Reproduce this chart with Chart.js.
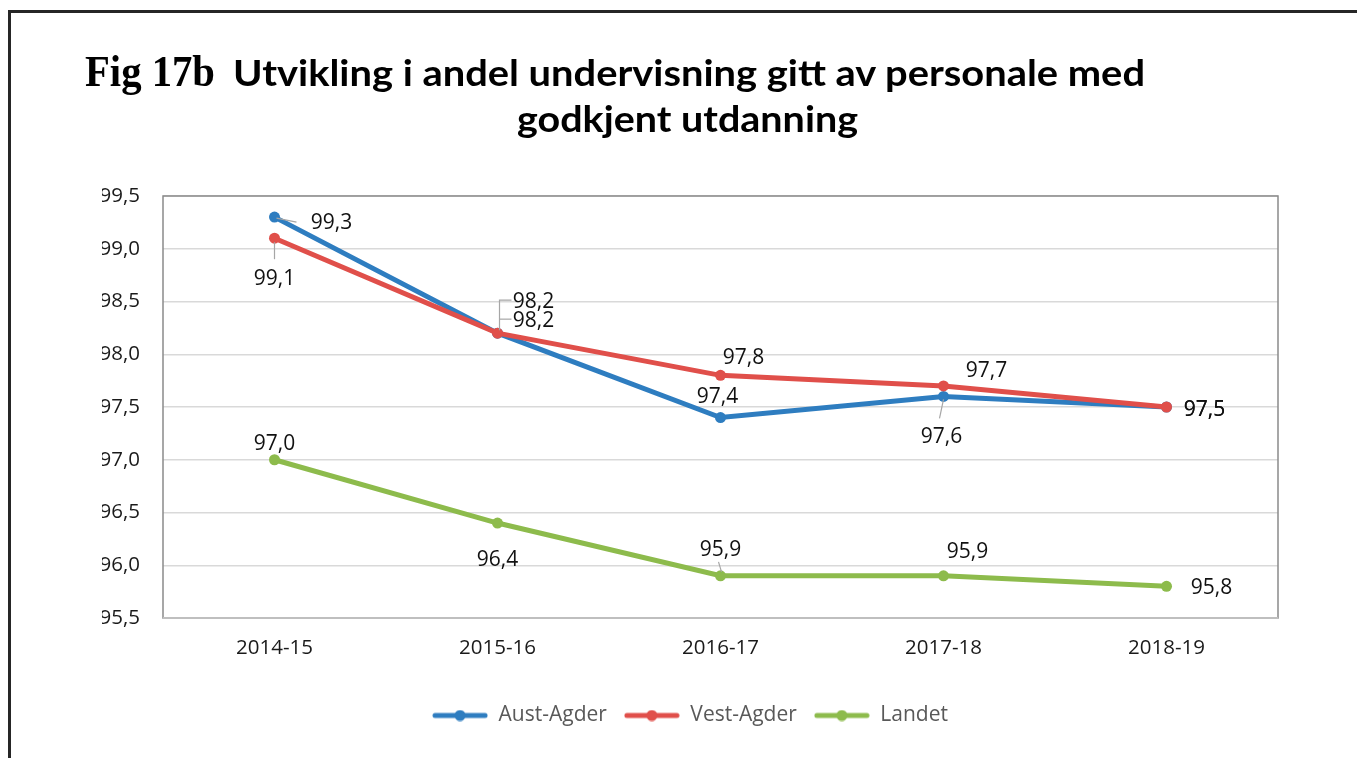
<!DOCTYPE html>
<html>
<head>
<meta charset="utf-8">
<script src="https://cdn.jsdelivr.net/npm/chart.js@4.4.0/dist/chart.umd.min.js"></script>
<style>
html,body{margin:0;padding:0;background:#fff;}
#wrap{position:relative;width:1357px;height:758px;overflow:hidden;background:#fff;}
#frameTop{position:absolute;left:8px;top:10px;width:1349px;height:3px;background:#262626;}
#frameLeft{position:absolute;left:8px;top:10px;width:3px;height:748px;background:#262626;}
#chart{position:absolute;left:0;top:0;}
.t{position:absolute;white-space:nowrap;color:#000;transform-origin:0 0;line-height:1;}
#fig{font-family:"Liberation Serif","Times New Roman",serif;font-weight:bold;font-size:44px;left:85px;top:50px;}
#t1{font-family:Lato,"Open Sans",sans-serif;font-weight:bold;font-size:37px;left:233px;top:53px;}
#t2{font-family:Lato,"Open Sans",sans-serif;font-weight:bold;font-size:37px;left:517px;top:99px;}
</style>
</head>
<body>
<div id="wrap">
  <div id="frameTop"></div>
  <div id="frameLeft"></div>
  <canvas id="chart" width="1357" height="758"></canvas>
  <div class="t" id="fig" data-w="130">Fig 17b</div>
  <div class="t" id="t1" data-w="912">Utvikling i andel undervisning gitt av personale med</div>
  <div class="t" id="t2" data-w="341">godkjent utdanning</div>
</div>
<script>
// ---- data ----
const categories = ['2014-15', '2015-16', '2016-17', '2017-18', '2018-19'];
const seriesNames = ['Aust-Agder', 'Vest-Agder', 'Landet'];
const austAgder = [99.3, 98.2, 97.4, 97.6, 97.5];
const vestAgder = [99.1, 98.2, 97.8, 97.7, 97.5];
const landet = [97.0, 96.4, 95.9, 95.9, 95.8];
const yTicks = [95.5, 96.0, 96.5, 97.0, 97.5, 98.0, 98.5, 99.0, 99.5];

// ---- styling / label placement ----
const colors = ['#2E7DC0', '#E04F4A', '#8DBB4C'];
const labelOffsets = [
  [[57, 6], [36, -31], [-3, -21], [-2, 41], [38, 3]],
  [[0, 41], [36, -12], [23, -17], [43, -15], [38, 3]],
  [[0, -16], [0, 37], [0, -26], [24, -24], [45, 2]]
];
const leaderLines = [
  [[[2, 1], [22, 5]], [[2, -3], [2, -33], [14, -33]], null, [[0, 3], [-4, 22]], null],
  [[[0, 4], [0, 21]], [[2, -14], [14, -14]], null, null, null],
  [null, null, [[-2, -14], [1, -4]], null, null]
];

const fmt = v => v.toFixed(1).replace('.', ',');
const FONT = 'Open Sans';

function legendImage(color) {
  const c = document.createElement('canvas');
  c.width = 56; c.height = 12;
  const g = c.getContext('2d');
  g.strokeStyle = color; g.lineWidth = 5; g.lineCap = 'round';
  g.beginPath(); g.moveTo(3, 6); g.lineTo(53, 6); g.stroke();
  g.fillStyle = color;
  g.beginPath(); g.arc(28, 6, 5.5, 0, Math.PI * 2); g.fill();
  return c;
}
const legendImgs = colors.map(legendImage);

const plotFrame = {
  id: 'plotFrame',
  beforeDatasetsDraw(chart) {
    const a = chart.chartArea, ctx = chart.ctx;
    ctx.save();
    ctx.strokeStyle = '#8A8A8A'; ctx.lineWidth = 1.5;
    ctx.strokeRect(a.left, a.top, a.right - a.left, a.bottom - a.top);
    ctx.strokeStyle = '#BFBFBF'; ctx.lineWidth = 2;
    ctx.beginPath(); ctx.moveTo(a.left, a.bottom); ctx.lineTo(a.right, a.bottom); ctx.stroke();
    ctx.restore();
  }
};

const dataLabels = {
  id: 'dataLabels',
  afterDatasetsDraw(chart) {
    const ctx = chart.ctx;
    ctx.save();
    chart.data.datasets.forEach((ds, di) => {
      const meta = chart.getDatasetMeta(di);
      meta.data.forEach((pt, i) => {
        const lead = leaderLines[di][i];
        if (lead) {
          ctx.strokeStyle = '#A6A6A6'; ctx.lineWidth = 1.2;
          ctx.beginPath();
          lead.forEach(([lx, ly], k) => k ? ctx.lineTo(pt.x + lx, pt.y + ly) : ctx.moveTo(pt.x + lx, pt.y + ly));
          ctx.stroke();
        }
        const [dx, dy] = labelOffsets[di][i];
        ctx.font = '21px "' + FONT + '"';
        ctx.fillStyle = '#111';
        ctx.textAlign = 'center'; ctx.textBaseline = 'middle';
        ctx.fillText(fmt(ds.data[i]), pt.x + dx, pt.y + dy);
      });
    });
    ctx.restore();
  }
};

const seriesValues = [austAgder, vestAgder, landet];
const drawOrder = [2, 1, 0];

new Chart(document.getElementById('chart'), {
  type: 'line',
  data: {
    labels: categories,
    datasets: seriesNames.map((name, i) => ({
      label: name,
      data: seriesValues[i],
      borderColor: colors[i],
      backgroundColor: colors[i],
      borderWidth: 5,
      pointRadius: 5.5,
      pointHoverRadius: 5.5,
      pointBorderWidth: 0,
      tension: 0,
      order: drawOrder[i]
    }))
  },
  options: {
    responsive: false,
    animation: false,
    layout: { padding: { left: 102, right: 79, top: 196, bottom: 22 } },
    scales: {
      x: {
        offset: true,
        grid: { display: false, drawTicks: false },
        border: { display: false },
        ticks: { padding: 18, color: '#1a1a1a', font: { family: FONT, size: 20.5 } },
        afterFit: s => { s.height = 70; }
      },
      y: {
        min: 95.5, max: 99.5,
        grid: { color: '#D9D9D9', lineWidth: 1.5, drawTicks: false },
        border: { display: false },
        afterBuildTicks: s => { s.ticks = yTicks.map(v => ({ value: v })); },
        ticks: { padding: 23, color: '#1a1a1a', font: { family: FONT, size: 20.5 }, callback: v => fmt(v) },
        afterFit: s => { s.width = 61; }
      }
    },
    plugins: {
      tooltip: { enabled: false },
      legend: {
        position: 'bottom',
        labels: {
          usePointStyle: true,
          pointStyleWidth: 56,
          padding: 17,
          color: '#595959',
          font: { family: FONT, size: 21 },
          sort: (a, b) => a.datasetIndex - b.datasetIndex,
          generateLabels: chart => {
            const items = Chart.defaults.plugins.legend.labels.generateLabels(chart);
            items.forEach(it => { it.pointStyle = legendImgs[it.datasetIndex]; });
            return items;
          }
        }
      }
    }
  },
  plugins: [plotFrame, dataLabels]
});

// fit title text widths
function fitTitles() {
  document.querySelectorAll('.t').forEach(el => {
    el.style.transform = 'none';
    const w = el.getBoundingClientRect().width;
    const target = parseFloat(el.dataset.w);
    el.style.transform = 'scaleX(' + (target / w) + ')';
  });
}
fitTitles();
if (document.fonts && document.fonts.ready) document.fonts.ready.then(fitTitles);
</script>
</body>
</html>
